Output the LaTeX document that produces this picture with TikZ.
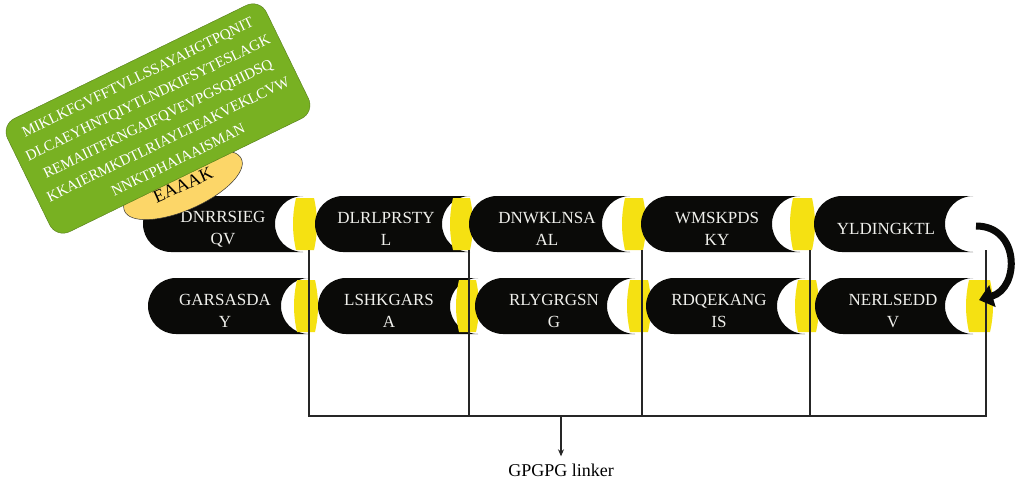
\documentclass[tikz,border=0pt]{standalone}
\usepackage{fontspec}
\setmainfont{Liberation Serif}
\usetikzlibrary{shapes.geometric,arrows.meta}
\definecolor{pillblack}{RGB}{10,10,8}
\definecolor{bandyellow}{RGB}{245,225,18}
\definecolor{boxgreen}{RGB}{120,177,34}
\definecolor{linkeryellow}{RGB}{252,214,104}
\definecolor{pilltextcol}{RGB}{240,240,236}
% black capsule with a concave (white) right end: xL, xC, yT
\newcommand\pillbody[3]{%
  \fill[pillblack] (#2,#3) -- (#1+28,#3) arc[start angle=270,end angle=90,radius=28]
    -- (#2,#3+56) arc[start angle=90,end angle=270,radius=28] -- cycle;}
% yellow barrel band: left, right, yT
\newcommand\pillband[3]{%
  \fill[bandyellow] (#1+2,#3+2) .. controls (#1-2,#3+20) and (#1-2,#3+36) .. (#1+2,#3+54)
    -- (#2-2,#3+54) .. controls (#2+2,#3+36) and (#2+2,#3+20) .. (#2-2,#3+2) -- cycle;}
\tikzset{
  pilltext/.style={text=pilltextcol, align=center, inner sep=0pt,
    font=\fontsize{17}{22}\selectfont},
  greenbox/.style={rotate=26, fill=boxgreen, draw=boxgreen!70!black, line width=0.4pt,
    rounded corners=15pt, minimum width=288pt, minimum height=126pt, text=white,
    align=center, inner sep=0pt, font=\fontsize{15}{23}\selectfont},
  linkerell/.style={ellipse, rotate=24, fill=linkeryellow, draw=black!80, line width=0.5pt,
    minimum width=128pt, minimum height=50pt, inner sep=0pt,
    font=\fontsize{18}{20}\selectfont},
  linkline/.style={draw=black!85, line width=1.1pt},
  turnarrow/.style={line width=7pt, pillblack, -{Triangle[length=14pt,width=22pt]}},
}
\begin{document}
\begin{tikzpicture}[x=1pt,y=-1pt]
\useasboundingbox (0,0) rectangle (1016,482);
% ---- top row ----
\pillbody{143}{303}{196}\pillband{294}{316}{196}
\pillbody{315}{470}{196}\pillband{451}{472}{196}
\pillbody{469}{630}{196}\pillband{623}{645}{196}
\pillbody{641}{800}{196}\pillband{791}{814}{196}
\pillbody{814}{973}{196}
% ---- bottom row ----
\pillbody{148}{309}{278}\pillband{295}{317}{278}
\pillbody{318}{478}{278}\pillband{457}{478}{278}
\pillbody{475}{635}{278}\pillband{628}{650}{278}
\pillbody{646}{805}{278}\pillband{796}{818}{278}
\pillbody{815}{973}{278}\pillband{967}{992}{278}
% ---- pill texts ----
\node[pilltext] (p1) at (223,229) {DNRRSIEG\\QV};
\node[pilltext] (p2) at (386,229) {DLRLPRSTY\\L};
\node[pilltext] (p3) at (547,229) {DNWKLNSA\\AL};
\node[pilltext] (p4) at (717,229) {WMSKPDS\\KY};
\node[pilltext] (p5) at (886,229) {YLDINGKTL};
\node[pilltext] (p6) at (225,311) {GARSASDA\\Y};
\node[pilltext] (p7) at (389,311) {LSHKGARS\\A};
\node[pilltext] (p8) at (554,311) {RLYGRGSN\\G};
\node[pilltext] (p9) at (719,311) {RDQEKANG\\IS};
\node[pilltext] (p10) at (893,311) {NERLSEDD\\V};
% ---- EAAAK linker and green domain ----
\node[linkerell] (eaaak) at (183,185) {EAAAK};
\node[greenbox] (seq) at (158,118.5) {MIKLKFGVFFTVLLSSAYAHGTPQNIT\\DLCAEYHNTQIYTLNDKIFSYTESLAGK\\REMAIITFKNGAIFQVEVPGSQHIDSQ\\KKAIERMKDTLRIAYLTEAKVEKLCVW\\NNKTPHAIAAISMAN};
% ---- GPGPG linker bracket ----
\coordinate (l1) at (309,250); \coordinate (b1) at (309,416);
\coordinate (l2) at (469,250); \coordinate (b2) at (469,416);
\coordinate (l3) at (642,250); \coordinate (b3) at (642,416);
\coordinate (l4) at (810,250); \coordinate (b4) at (810,416);
\coordinate (l5) at (986,250); \coordinate (b5) at (986,416);
\coordinate (m) at (561,416);
\draw[linkline] (l1) -- (b1) -- (b5) -- (l5);
\draw[linkline] (l2) -- (b2);
\draw[linkline] (l3) -- (b3);
\draw[linkline] (l4) -- (b4);
\node[anchor=base, inner sep=0pt, font=\fontsize{18}{20}\selectfont] (lab) at (561,476) {GPGPG linker};
\draw[draw=black!85, line width=1.1pt, -{Stealth[length=7pt,width=6pt]}, shorten >=7pt] (m) -- (lab.north);
% ---- turn arrow ----
\coordinate (cs) at (976,226);
\coordinate (ce) at (979,300);
\draw[turnarrow] (cs) .. controls (1020,226) and (1020,288) .. (ce);
\end{tikzpicture}
\end{document}
